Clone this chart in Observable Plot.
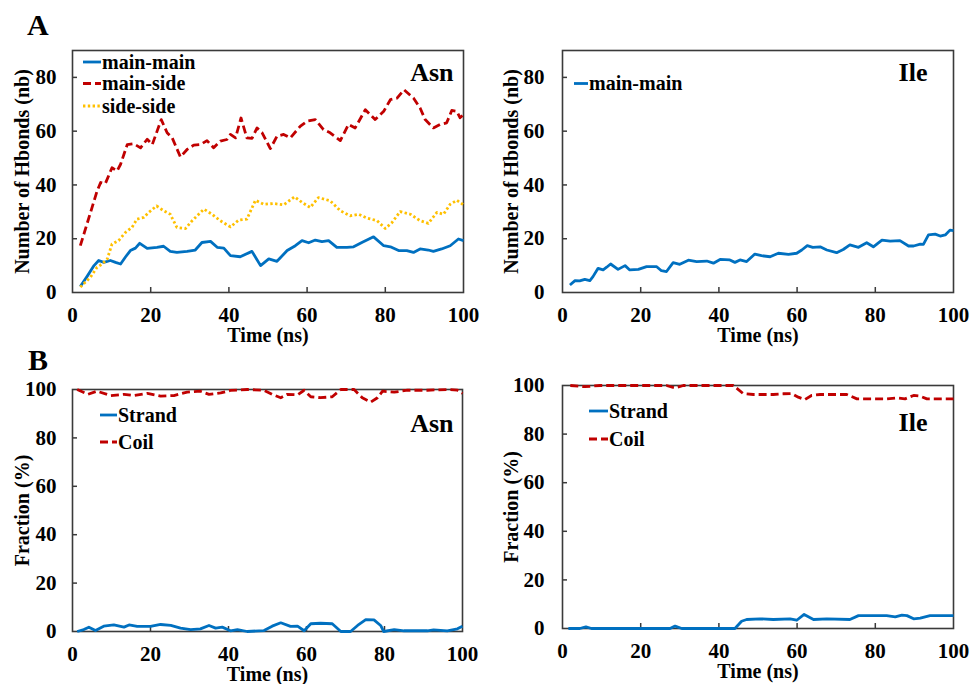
<!DOCTYPE html>
<html>
<head>
<meta charset="utf-8">
<script src="https://cdn.jsdelivr.net/npm/d3@7"></script>
<script src="https://cdn.jsdelivr.net/npm/@observablehq/plot@0.6"></script>
<style>
  html, body { margin: 0; padding: 0; background: #fff; }
  #root { position: relative; width: 972px; height: 684px; overflow: hidden; font-family: "Liberation Serif", "Times New Roman", serif; }
  #root > .panel { position: absolute; }
  #letters { position: absolute; left: 0; top: 0; pointer-events: none; }
</style>
</head>
<body>
<div id="root"></div>
<script>
// ---------------- Data ----------------
const xTicks = [0, 20, 40, 60, 80, 100];
const yTicksHb = [0, 20, 40, 60, 80];
const yTicksFrac = [0, 20, 40, 60, 80, 100];

// Panel A, Asn: number of H-bonds
const asnMainMainT = [2,3.7,5.5,6.7,8,9.7,11,12.3,13.5,14.8,16.1,17.2,19.1,21.6,23.3,25,26.7,29.3,31.4,33.1,35.3,37,38.7,40.4,42.9,45.9,48.1,50.2,52.3,54.9,57,58.7,60.4,62.1,63.8,65.5,67.6,70.2,71.9,74,77,79.6,81.3,83.4,85.5,87.2,88.9,91,92.3,94.4,96.6,98.7,100];
const asnMainMainY = [2.2,5.9,10,11.9,11.2,11.9,11.2,10.6,13.1,15.6,16.5,18.3,16.4,16.8,17.2,15.3,14.9,15.3,15.8,18.6,19,16.8,16.5,13.7,13.3,15.3,10,12.5,11.6,15.6,17.4,19.3,18.5,19.5,18.9,19.3,16.8,16.8,17,18.6,20.7,17.4,17,15.6,15.6,14.9,16.2,15.8,15.3,16.2,17.4,19.9,19.3];

const asnMainSideT = [2,6.3,7.2,8.4,10.1,11.4,12.3,14,15.7,17.4,19.1,20.4,22.7,24.2,25.5,27.6,29.3,31,32.7,34.4,36.1,37.8,39.5,40.4,41.7,43.1,44.6,45.9,47.2,48.5,50.6,52.3,54,55.7,58.3,60,62.1,64.2,65.9,68.5,70.6,72.3,74.9,77.4,79.6,81.3,83,84.8,87.2,88.9,90.2,92.3,94,95.7,97,98.3,99.1,100];
const asnMainSideY = [17.4,37.8,40.9,40.5,46.4,45.2,47.7,55,55.3,53.8,57,55,64.3,59.4,57.5,50.4,53.2,54.8,55,56.5,53.8,56.3,56.9,58.8,57.5,64.9,57.5,57.3,61.2,59.4,53.5,58.1,58.8,57.5,61.9,63.7,64.3,60.6,59.4,56.5,62.5,61.2,68,64.3,67.4,71.7,72.3,75.4,72.3,68.6,64.3,61.2,62.5,63.1,67.7,67.4,65,66.2];

const asnSideSideT = [2,4.6,6.3,7.6,8.9,10.1,11.8,13.5,15.2,16.5,18.2,19.5,21.5,23.3,25,26.7,28.9,30.6,33.6,35.7,37.8,40.4,42.5,44.6,46.8,48.9,51.4,54,56.8,58.7,60.8,62.9,65.9,68.5,71,73.2,75.3,77.9,80,81.7,83.8,86.4,88.9,91,93.2,94.9,96.6,98.3,100];
const asnSideSideY = [2,5.7,9.4,10.6,12.5,18,19.3,22.3,24.2,27.3,27.9,29.8,32.2,30.4,29.1,24.2,23.8,26.7,31,29.1,26.7,24.4,26.9,27.3,34.3,32.8,33.1,32.6,35.6,33.5,31.6,35.3,34.1,30.4,28.5,29.1,27.7,26.7,23.8,26,30.1,29.1,26.7,25.7,29.8,29.1,32.8,34.3,32.6];

// Panel A, Ile
const ileMainMainT = [1.9,3.2,4.4,5.7,7,7.8,9.1,10.4,11.3,12.3,14.2,16,17.2,19.4,21.5,24.1,25.3,26.6,28.3,30,32.2,34.3,36.9,38.6,40.3,42.8,44.1,45.4,47.1,49.2,50.9,53.1,55.2,57.8,59.9,61.2,62.6,64,65.9,67.6,70.1,71.8,73.5,75.7,77.8,79.5,81.7,83.8,86.3,88.5,89.8,91.5,92.3,93.6,95.3,96.6,97.9,99.1,100];
const ileMainMainY = [2.8,4.4,4.3,4.9,4.4,5.9,9,8.4,9.4,10.6,8.6,10,8.4,8.6,9.6,9.6,8.1,7.8,11.1,10.5,12,11.5,11.7,10.9,12.3,12.1,11.2,12.1,11.5,14.3,13.7,13.3,14.6,14.2,14.6,15.8,17.4,16.8,17,15.8,14.8,16,17.7,16.8,18.5,17,19.5,19.1,19.3,17.3,17.3,18,17.9,21.4,21.7,21,21.4,23.2,23];

// Panel B, Asn: secondary structure fraction
const asnStrandT = [1.2,2.9,4.2,5.9,8,10.6,13.2,14.5,16.6,20,22.6,25.2,27.7,30.3,32.8,35,36.7,38.4,40.5,42.3,44.8,49.1,51.2,53.4,55.9,57.7,59.4,61.1,63.6,66.6,68.8,71.3,73.1,75.2,77.3,79,79.8,82.5,85,91,92.6,96.1,98.7,100];
const asnStrandY = [0,0.8,1.8,0.4,2.2,2.7,1.8,2.7,2.1,2.1,2.9,2.5,1.4,0.8,1.1,2.5,1.4,1.8,0.3,0.8,0,0.4,2.2,3.6,2.1,2.2,0.3,3.2,3.4,3.2,0,0,2.5,4.9,4.8,2.5,0,0.8,0.3,0.3,0.7,0.3,1.1,2.2];
const asnCoilT = [1.2,3.9,6.3,9.8,13.2,15.7,19.2,22.6,26,29.4,32.8,35,38,40.5,44.8,49.1,51.2,53.4,55.1,57.7,59.4,61.1,63.6,66.6,68.8,72.2,74.3,76.5,78.2,79.5,82.5,85.9,91,96.1,98.7,100];
const asnCoilY = [100,98,99.3,97.5,98,97.5,98.4,97.3,97.5,98.9,99.3,98,98.6,99.6,100,99.7,98,96.6,98,97.8,99.7,97,96.6,97,100,100,96.6,94.8,96.6,99.3,98.9,99.7,99.7,100,99.7,98.4];

// Panel B, Ile
const ileStrandT = [1.5,4.4,6,7.4,27.5,28.8,30.5,44.1,45.8,47.1,50.5,53.9,58.2,59.9,61.8,64.2,67.6,73.5,75.7,82.9,85.1,86.8,88.1,89.8,91.5,94,100];
const ileStrandY = [0,0,0.7,0,0,1,0,0,3,3.7,4,3.7,4,3.4,5.8,3.7,4,3.7,5.3,5.3,4.8,5.5,5.3,4,4.3,5.3,5.3];
const ileCoilT = [2,5.7,9.6,26.6,28.8,30.9,43.7,46.2,48.8,53.9,56.5,58.6,60.3,62,63.7,65.9,72.7,75.3,82.9,85.5,87.6,89.8,91.5,93.2,100];
const ileCoilY = [100,99.5,100,100,99,100,100,96.7,96.3,96.3,96.6,96.7,95.2,94.2,95.9,96.3,96.3,94.5,94.5,94.9,94.5,95.9,95.6,94.5,94.5];

// ---------------- Styles ----------------
const BLUE = "#0070C0", RED = "#C00000", YELLOW = "#FFC000";
const SERIF = "'Liberation Serif', 'Times New Roman', serif";
const styleOf = {
  "main-main": {stroke: BLUE, dash: null},
  "main-side": {stroke: RED, dash: "8,4"},
  "side-side": {stroke: YELLOW, dash: "2.4,2.4"},
  "Strand": {stroke: BLUE, dash: null},
  "Coil": {stroke: RED, dash: "8,4"}
};
const zip = (t, v) => t.map((x, i) => ({t: x, v: v[i]}));

function panel(cfg) {
  const W = cfg.width, H = cfg.height;
  const fw = W - cfg.ml - cfg.mr, fh = H - cfg.mt - cfg.mb;
  const marks = [];
  marks.push(Plot.frame({stroke: "#3a3a3a", strokeWidth: 1.6}));
  marks.push(Plot.tickX(xTicks.slice(1, -1), {x: d => d, insetTop: fh - 5, stroke: "#3a3a3a", strokeWidth: 1.5}));
  marks.push(Plot.tickY(cfg.yTicks.slice(1).filter(d => d < cfg.yDomain[1]), {y: d => d, insetRight: fw - 5, stroke: "#3a3a3a", strokeWidth: 1.5}));
  for (const s of cfg.series) {
    const st = styleOf[s.name];
    marks.push(Plot.line(zip(s.t, s.v), {x: "t", y: "v", stroke: st.stroke, strokeWidth: 2.8, strokeDasharray: st.dash, strokeLinecap: "butt", strokeLinejoin: "round"}));
  }
  marks.push(Plot.text([cfg.tag], {frameAnchor: "top-right", textAnchor: "end", lineAnchor: "middle", dx: cfg.tagDx, dy: cfg.tagDy, fontSize: 26, fontWeight: "bold", fill: "#000"}));
  marks.push(Plot.text(["Time (ns)"], {frameAnchor: "bottom", textAnchor: "middle", lineAnchor: "middle", dy: cfg.xLabelDy, fontSize: 20, fontWeight: "bold", fill: "#000"}));
  marks.push(Plot.text([cfg.yLabel], {frameAnchor: "left", textAnchor: "middle", rotate: -90, lineAnchor: "middle", dx: cfg.yLabelDx, fontSize: 20, fontWeight: "bold", fill: "#000"}));
  const svg = Plot.plot({
    width: W, height: H,
    marginLeft: cfg.ml, marginRight: cfg.mr, marginTop: cfg.mt, marginBottom: cfg.mb,
    style: {fontFamily: SERIF, fontSize: "21px", fontWeight: "bold", color: "#000", background: "transparent", overflow: "visible"},
    x: {domain: [0, 100], ticks: xTicks, tickSize: 0, tickPadding: 15, label: null},
    y: {domain: cfg.yDomain, ticks: cfg.yTicks, tickSize: 0, tickPadding: cfg.yPad, label: null},
    marks
  });
  // legend inside the frame (top-left)
  const g = d3.select(svg).append("g").attr("text-anchor", "start");
  cfg.series.forEach((s, i) => {
    const st = styleOf[s.name];
    const y = cfg.legY[i];
    g.append("line")
      .attr("x1", cfg.ml + cfg.legX1).attr("x2", cfg.ml + cfg.legX2)
      .attr("y1", y).attr("y2", y)
      .attr("stroke", st.stroke).attr("stroke-width", 2.8)
      .attr("stroke-dasharray", st.dash);
    g.append("text")
      .attr("x", cfg.ml + cfg.legX2 + 1).attr("y", y).attr("dy", "0.34em")
      .attr("text-anchor", "start")
      .attr("font-family", SERIF).attr("font-size", 20).attr("font-weight", "bold")
      .attr("fill", "#000")
      .text(s.name);
  });
  const div = document.createElement("div");
  div.className = "panel";
  div.style.left = cfg.left + "px";
  div.style.top = cfg.top + "px";
  div.appendChild(svg);
  document.getElementById("root").appendChild(div);
}

panel({
  left: 0, top: 0, width: 486, height: 342, ml: 72, mr: 23, mt: 50, mb: 50,
  yDomain: [0, 90], yTicks: yTicksHb, yPad: 16,
  yLabel: "Number of Hbonds (nb)", yLabelDx: -50, xLabelDy: 43,
  tag: "Asn", tagDx: -10, tagDy: 22,
  legX1: 11, legX2: 29, legY: [62, 83.5, 106],
  series: [
    {name: "main-main", t: asnMainMainT, v: asnMainMainY},
    {name: "main-side", t: asnMainSideT, v: asnMainSideY},
    {name: "side-side", t: asnSideSideT, v: asnSideSideY}
  ]
});
panel({
  left: 486, top: 0, width: 486, height: 342, ml: 76, mr: 19, mt: 50, mb: 50,
  yDomain: [0, 90], yTicks: yTicksHb, yPad: 18,
  yLabel: "Number of Hbonds (nb)", yLabelDx: -51, xLabelDy: 43,
  tag: "Ile", tagDx: -26, tagDy: 22,
  legX1: 12, legX2: 26, legY: [83.5],
  series: [
    {name: "main-main", t: ileMainMainT, v: ileMainMainY}
  ]
});
panel({
  left: 0, top: 342, width: 486, height: 342, ml: 72, mr: 24, mt: 47, mb: 53,
  yDomain: [0, 100], yTicks: yTicksFrac, yPad: 16,
  yLabel: "Fraction (%)", yLabelDx: -50, xLabelDy: 43,
  tag: "Asn", tagDx: -9, tagDy: 34,
  legX1: 28, legX2: 45, legY: [73, 100],
  series: [
    {name: "Strand", t: asnStrandT, v: asnStrandY},
    {name: "Coil", t: asnCoilT, v: asnCoilY}
  ]
});
panel({
  left: 486, top: 342, width: 486, height: 342, ml: 76, mr: 19, mt: 43, mb: 56,
  yDomain: [0, 100], yTicks: yTicksFrac, yPad: 18,
  yLabel: "Fraction (%)", yLabelDx: -51, xLabelDy: 43,
  tag: "Ile", tagDx: -26, tagDy: 37,
  legX1: 27, legX2: 46, legY: [69, 97],
  series: [
    {name: "Strand", t: ileStrandT, v: ileStrandY},
    {name: "Coil", t: ileCoilT, v: ileCoilY}
  ]
});

// Figure-part letters
const letters = d3.select("#root").append("svg")
  .attr("id", "letters").attr("width", 972).attr("height", 684);
[["A", 27, 35], ["B", 28, 370]].forEach(([s, x, y]) => {
  letters.append("text").attr("x", x).attr("y", y)
    .attr("font-family", SERIF).attr("font-size", 30).attr("font-weight", "bold")
    .attr("fill", "#000").text(s);
});
</script>
</body>
</html>
